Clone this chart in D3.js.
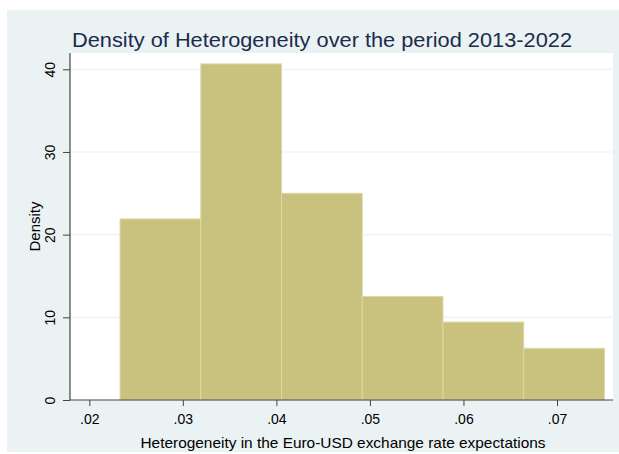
<!DOCTYPE html>
<html>
<head>
<meta charset="utf-8">
<script src="https://cdn.jsdelivr.net/npm/d3@7"></script>
<style>
  html, body { margin: 0; padding: 0; background: #ffffff; }
  svg { display: block; font-family: "Liberation Sans", Arial, sans-serif; }
</style>
</head>
<body>
<svg id="chart" width="619" height="454"></svg>
<script>
// ---- data ----
const binEdges = [0.02329, 0.03192, 0.04055, 0.04918, 0.05781, 0.06644, 0.07507];
const densities = [21.9, 40.66, 25.0, 12.52, 9.43, 6.25];
const xTicks = [0.02, 0.03, 0.04, 0.05, 0.06, 0.07];
const yTicks = [0, 10, 20, 30, 40];
const titleText = "Density of Heterogeneity over the period 2013-2022";
const xTitle = "Heterogeneity in the Euro-USD exchange rate expectations";
const yTitle = "Density";

// ---- layout ----
const svg = d3.select("#chart");
const plot = { left: 70, right: 613, top: 53, bottom: 400 };

const x = d3.scaleLinear().domain([0.02, 0.07]).range([89.3, 557]);
const y = d3.scaleLinear().domain([0, 40]).range([400, 69.3]);

// outer background
svg.append("rect").attr("x", 7).attr("y", 10).attr("width", 612).attr("height", 442)
  .attr("fill", "#eaf2f3");

// plot region
svg.append("rect").attr("x", plot.left).attr("y", plot.top)
  .attr("width", plot.right - plot.left).attr("height", plot.bottom - plot.top)
  .attr("fill", "#ffffff");

// gridlines
svg.append("g").selectAll("line").data(yTicks.filter(d => d > 0)).join("line")
  .attr("x1", plot.left).attr("x2", plot.right)
  .attr("y1", d => y(d)).attr("y2", d => y(d))
  .attr("stroke", "#eaf2f3").attr("stroke-width", 1.2);

// bars
const bins = densities.map((v, i) => ({ x0: binEdges[i], x1: binEdges[i + 1], v }));
svg.append("g").selectAll("rect").data(bins).join("rect")
  .attr("x", d => x(d.x0))
  .attr("width", d => x(d.x1) - x(d.x0))
  .attr("y", d => y(d.v))
  .attr("height", d => y(0) - y(d.v))
  .attr("fill", "#c9c27f")
  .attr("stroke", "#ddd8a6")
  .attr("stroke-width", 1);

// y axis
const yAxis = d3.axisLeft(y).tickValues(yTicks).tickSize(7).tickFormat(d3.format("d"));
const gy = svg.append("g").attr("transform", `translate(${plot.left},0)`).call(yAxis);
gy.select(".domain").remove();
gy.selectAll(".tick line").attr("stroke", "#444");
gy.selectAll(".tick text").remove();
gy.selectAll(".tick").append("text")
  .attr("transform", "translate(-15,0) rotate(-90)")
  .attr("text-anchor", "middle")
  .attr("fill", "#000")
  .attr("font-size", 14)
  .text(d => d);
svg.append("line").attr("x1", plot.left).attr("x2", plot.left)
  .attr("y1", plot.top).attr("y2", plot.bottom).attr("stroke", "#444").attr("stroke-width", 1.2);

// x axis
const xAxis = d3.axisBottom(x).tickValues(xTicks).tickSize(6)
  .tickFormat(d => d3.format(".2f")(d).replace(/^0/, ""));
const gx = svg.append("g").attr("transform", `translate(0,${plot.bottom})`).call(xAxis);
gx.select(".domain").remove();
gx.selectAll(".tick line").attr("stroke", "#444");
gx.selectAll(".tick text").attr("fill", "#000").attr("font-size", 14)
  .attr("font-family", "Liberation Sans, Arial, sans-serif").attr("y", 24).attr("dy", null);
svg.append("line").attr("x1", plot.left).attr("x2", plot.right)
  .attr("y1", plot.bottom).attr("y2", plot.bottom).attr("stroke", "#444").attr("stroke-width", 1.2);

// titles
svg.append("text").attr("x", 322).attr("y", 47).attr("text-anchor", "middle")
  .attr("font-size", 21).attr("fill", "#1c2b4d")
  .attr("textLength", 500).attr("lengthAdjust", "spacingAndGlyphs").text(titleText);
svg.append("text").attr("x", 343).attr("y", 448).attr("text-anchor", "middle")
  .attr("font-size", 14.2).attr("fill", "#000")
  .attr("textLength", 405).attr("lengthAdjust", "spacingAndGlyphs").text(xTitle);
svg.append("text").attr("transform", `translate(40,${(plot.top + plot.bottom) / 2}) rotate(-90)`)
  .attr("text-anchor", "middle").attr("font-size", 14.2).attr("fill", "#000")
  .attr("textLength", 50).attr("lengthAdjust", "spacingAndGlyphs").text(yTitle);
</script>
</body>
</html>
